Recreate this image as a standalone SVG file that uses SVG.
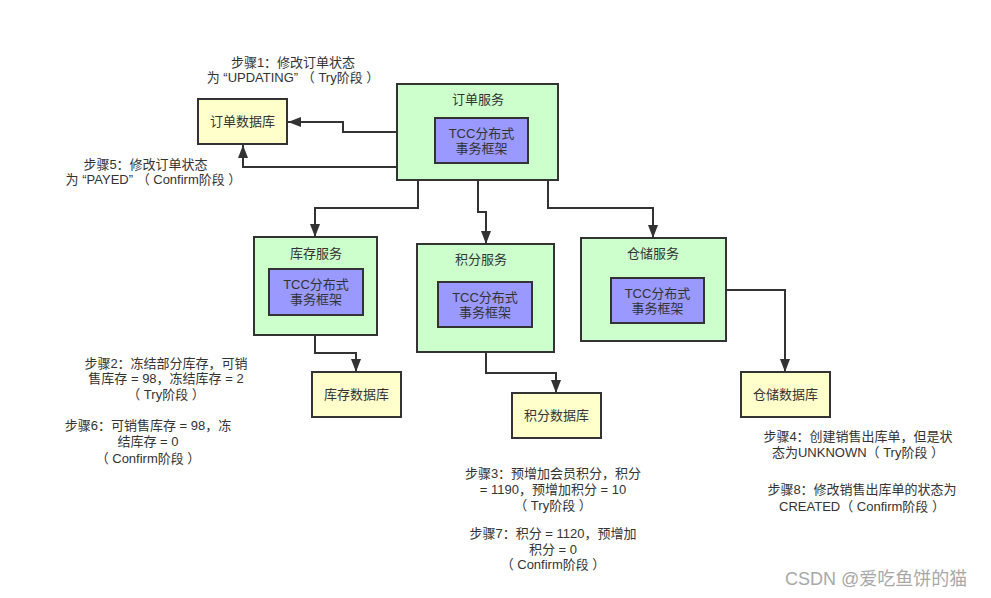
<svg xmlns="http://www.w3.org/2000/svg" width="991" height="598" viewBox="0 0 991 598">
<defs>
<style>
text{font-family:"Liberation Sans","Noto Sans CJK SC",sans-serif;font-size:13px;fill:#333;text-anchor:middle}
.svc{fill:#ccffcc;stroke:#333;stroke-width:2}
.tcc{fill:#9999ff;stroke:#333;stroke-width:2}
.db{fill:#ffffcc;stroke:#333;stroke-width:2}
.edge{fill:none;stroke:#333;stroke-width:2}
.wm{font-size:18px;fill:#a8a8a8;text-anchor:start}
</style>
<marker id="arr" markerUnits="userSpaceOnUse" markerWidth="13" markerHeight="10" refX="13" refY="5" orient="auto">
<path d="M0,0 L13,5 L0,10 z" fill="#333"/>
</marker>
</defs>
<rect width="991" height="598" fill="#fff"/>

<g id="order-db">
<rect class="db" x="198" y="99" width="89" height="45"/>
<text x="242.5" y="126">订单数据库</text>
</g>
<g id="order-svc">
<rect class="svc" x="397" y="84" width="161" height="96"/>
<text x="478" y="103.5">订单服务</text>
<rect class="tcc" x="435" y="118" width="93" height="45"/>
<text x="481.5" y="137.5">TCC分布式<tspan x="481.5" dy="15">事务框架</tspan></text>
</g>
<g id="stock-svc">
<rect class="svc" x="254" y="237" width="123" height="98"/>
<text x="316" y="257.5">库存服务</text>
<rect class="tcc" x="269" y="269" width="94" height="46"/>
<text x="316" y="288.5">TCC分布式<tspan x="316" dy="15">事务框架</tspan></text>
</g>
<g id="points-svc">
<rect class="svc" x="417" y="244" width="137" height="108"/>
<text x="481" y="263.5">积分服务</text>
<rect class="tcc" x="438" y="282" width="94" height="45"/>
<text x="485" y="301.5">TCC分布式<tspan x="485" dy="15">事务框架</tspan></text>
</g>
<g id="wh-svc">
<rect class="svc" x="581" y="238" width="145" height="103"/>
<text x="653" y="257.5">仓储服务</text>
<rect class="tcc" x="611" y="278" width="93" height="45"/>
<text x="657.5" y="297.5">TCC分布式<tspan x="657.5" dy="15">事务框架</tspan></text>
</g>
<g id="stock-db">
<rect class="db" x="312" y="372" width="89" height="45"/>
<text x="356.5" y="399">库存数据库</text>
</g>
<g id="points-db">
<rect class="db" x="512" y="393" width="89" height="45"/>
<text x="556.5" y="420">积分数据库</text>
</g>
<g id="wh-db">
<rect class="db" x="741" y="372" width="89" height="45"/>
<text x="785.5" y="399">仓储数据库</text>
</g>

<g id="connectors">
<path class="edge" marker-end="url(#arr)" d="M397,132 H343 V122 H288"/>
<path class="edge" marker-end="url(#arr)" d="M397,167 H243 V145"/>
<path class="edge" marker-end="url(#arr)" d="M418,180 V208 H315 V237"/>
<path class="edge" marker-end="url(#arr)" d="M478,180 V212 H486 V244"/>
<path class="edge" marker-end="url(#arr)" d="M548,180 V208 H653 V238"/>
<path class="edge" marker-end="url(#arr)" d="M315,335 V353 H356 V372"/>
<path class="edge" marker-end="url(#arr)" d="M486,352 V373 H556 V393"/>
<path class="edge" marker-end="url(#arr)" d="M726,290 H785 V372"/>
</g>

<g id="labels">
<text x="293" y="66.5">步骤1：修改订单状态<tspan x="293" dy="15">为 “UPDATING” （ Try阶段 ）</tspan></text>
<text x="145.5" y="168.5">步骤5：修改订单状态<tspan x="153.5" dy="15">为 “PAYED” （ Confirm阶段 ）</tspan></text>
<text x="166" y="367.5">步骤2：冻结部分库存，可销<tspan x="166" dy="15">售库存 = 98，冻结库存 = 2</tspan><tspan x="166" dy="16">（ Try阶段 ）</tspan></text>
<text x="148" y="429.5">步骤6：可销售库存 = 98，冻<tspan x="148" dy="16">结库存 = 0</tspan><tspan x="148" dy="17">（ Confirm阶段 ）</tspan></text>
<text x="553" y="477.5">步骤3：预增加会员积分，积分<tspan x="553" dy="16">= 1190，预增加积分 = 10</tspan><tspan x="553" dy="16">（ Try阶段 ）</tspan></text>
<text x="553" y="537.5">步骤7：积分 = 1120，预增加<tspan x="553" dy="16">积分 = 0</tspan><tspan x="553" dy="15">（ Confirm阶段 ）</tspan></text>
<text x="858" y="440.5">步骤4：创建销售出库单，但是状<tspan x="858" dy="16">态为UNKNOWN（ Try阶段 ）</tspan></text>
<text x="862" y="493.5">步骤8：修改销售出库单的状态为<tspan x="862" dy="17">CREATED（ Confirm阶段 ）</tspan></text>
<text class="wm" x="785" y="585">CSDN @爱吃鱼饼的猫</text>
</g>
</svg>
